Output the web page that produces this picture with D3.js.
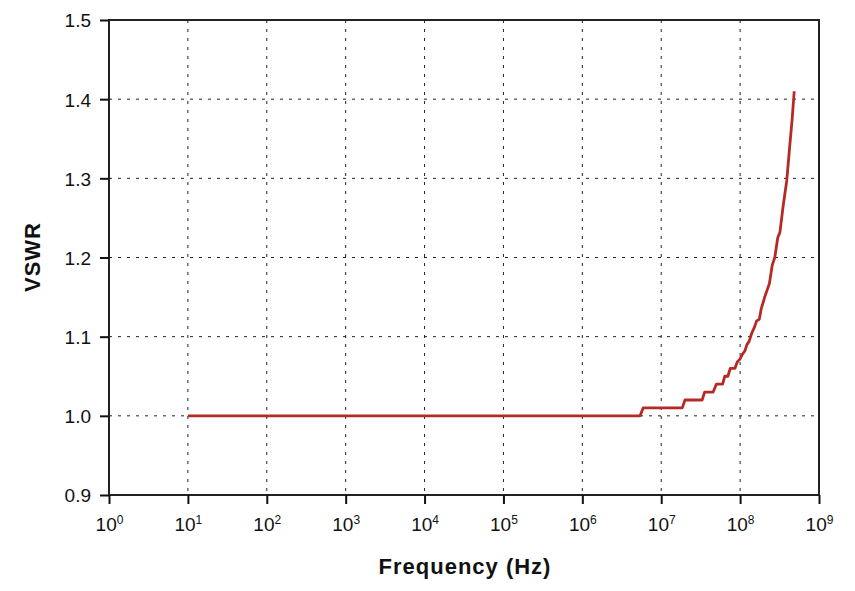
<!DOCTYPE html>
<html>
<head>
<meta charset="utf-8">
<script src="https://cdn.jsdelivr.net/npm/d3@7.9.0/dist/d3.min.js"></script>
<style>
  body { margin: 0; background: #fff; }
  text { font-family: "Liberation Sans", Arial, sans-serif; fill: #111; }
</style>
</head>
<body>
<div id="viz"></div>
<script>
// Frequency (Hz) and VSWR
const freq = [10, 5.4e6, 5.9e6, 1.85e7, 2.0e7, 3.3e7, 3.55e7, 4.55e7, 5.0e7, 6.0e7,
  6.4e7, 7.0e7, 7.5e7, 8.6e7, 9.2e7, 1.0e8, 1.07e8, 1.15e8, 1.22e8, 1.3e8,
  1.4e8, 1.52e8, 1.62e8, 1.75e8, 1.85e8, 2.05e8, 2.35e8, 2.55e8, 2.75e8, 3.0e8,
  3.2e8, 3.5e8, 3.9e8, 4.25e8, 4.55e8, 4.85e8];
const vswr = [1.000, 1.000, 1.010, 1.010, 1.020, 1.020, 1.030, 1.030, 1.040, 1.040,
  1.050, 1.050, 1.060, 1.060, 1.068, 1.072, 1.078, 1.082, 1.090, 1.094,
  1.104, 1.112, 1.120, 1.122, 1.135, 1.150, 1.167, 1.190, 1.200, 1.225,
  1.232, 1.264, 1.297, 1.340, 1.373, 1.410];

const xTickExps = [0, 1, 2, 3, 4, 5, 6, 7, 8, 9];
const yTicks = [0.9, 1.0, 1.1, 1.2, 1.3, 1.4, 1.5];

const W = 855, H = 591;
const margin = {top: 20, right: 36, bottom: 96, left: 109};
const width = W - margin.left - margin.right,
      height = H - margin.top - margin.bottom;

const svg = d3.select('#viz').append('svg')
    .attr('width', W).attr('height', H);
const g = svg.append('g')
    .attr('transform', `translate(${margin.left},${margin.top})`);

const x = d3.scaleLog().domain([1, 1e9]).range([0, width]);
const y = d3.scaleLinear().domain([0.9, 1.5]).range([height, 0]);

// grid
g.append('g').selectAll('line')
  .data(xTickExps.slice(1, -1))
  .join('line')
    .attr('x1', d => x(Math.pow(10, d))).attr('x2', d => x(Math.pow(10, d)))
    .attr('y1', 0).attr('y2', height)
    .attr('stroke', '#222').attr('stroke-width', 1)
    .attr('stroke-dasharray', '3,6');
g.append('g').selectAll('line')
  .data(yTicks.slice(1, -1))
  .join('line')
    .attr('x1', 0).attr('x2', width)
    .attr('y1', d => y(d)).attr('y2', d => y(d))
    .attr('stroke', '#222').attr('stroke-width', 1)
    .attr('stroke-dasharray', '3,6');

// data line
const pts = freq.map((f, i) => ({f: f, v: vswr[i]}));
g.append('path')
  .datum(pts)
  .attr('fill', 'none')
  .attr('stroke', '#b52a24')
  .attr('stroke-width', 2.8)
  .attr('stroke-linejoin', 'round')
  .attr('d', d3.line().x(d => x(d.f)).y(d => y(d.v)));

// frame
g.append('rect')
  .attr('x', 0).attr('y', 0).attr('width', width).attr('height', height)
  .attr('fill', 'none').attr('stroke', '#222').attr('stroke-width', 2);

// y axis
const yAxis = g.append('g')
  .call(d3.axisLeft(y).tickValues(yTicks).tickSize(9).tickSizeOuter(0)
    .tickFormat(d3.format('.1f')));
yAxis.select('.domain').remove();
yAxis.selectAll('.tick line').attr('stroke', '#111').attr('stroke-width', 2);
yAxis.selectAll('.tick text')
  .attr('x', -18).attr('dy', '0.36em')
  .style('font-size', '19px')
  .style('font-family', '"Liberation Sans", Arial, sans-serif')
  .attr('fill', '#111');

// x axis
const xAxis = g.append('g')
  .attr('transform', `translate(0,${height})`)
  .call(d3.axisBottom(x).tickValues(xTickExps.map(e => Math.pow(10, e)))
    .tickSize(9).tickSizeOuter(0).tickFormat(''));
xAxis.select('.domain').remove();
xAxis.selectAll('.tick line').attr('stroke', '#111').attr('stroke-width', 2);
xAxis.selectAll('.tick').each(function(d) {
  const t = d3.select(this).append('text')
    .attr('y', 36)
    .attr('text-anchor', 'middle')
    .attr('fill', '#111')
    .style('font-size', '19px')
    .style('font-family', '"Liberation Sans", Arial, sans-serif');
  t.append('tspan').text('10');
  t.append('tspan').attr('dy', -7).style('font-size', '12px')
    .text(Math.round(Math.log10(d)));
});

// axis titles
svg.append('text')
  .attr('x', 465).attr('y', 574)
  .attr('text-anchor', 'middle')
  .style('font-size', '22px').style('font-weight', 'bold')
  .style('letter-spacing', '1px')
  .text('Frequency (Hz)');
svg.append('text')
  .attr('transform', 'translate(40,257) rotate(-90)')
  .attr('text-anchor', 'middle')
  .style('font-size', '22px').style('font-weight', 'bold')
  .style('letter-spacing', '1px')
  .text('VSWR');
</script>
</body>
</html>
